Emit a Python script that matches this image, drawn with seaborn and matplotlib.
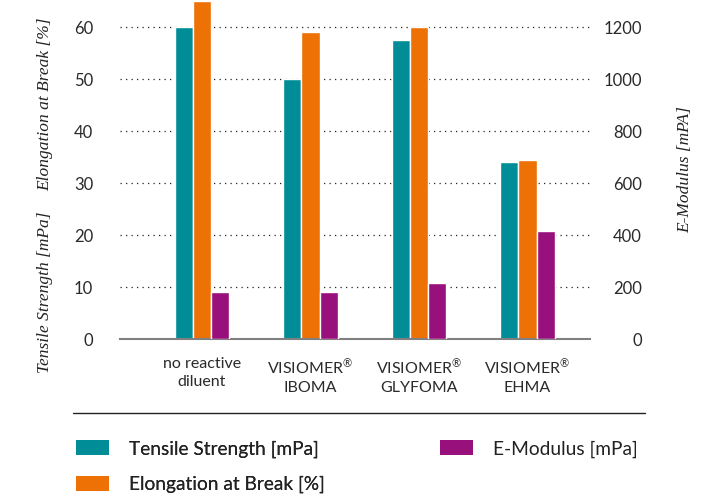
import matplotlib
matplotlib.use("Agg")
import matplotlib.pyplot as plt
from matplotlib.patches import Patch
from matplotlib.lines import Line2D
import seaborn as sns
import pandas as pd

categories = ["no reactive\ndiluent", "VISIOMER$^{®}$\nIBOMA", "VISIOMER$^{®}$\nGLYFOMA", "VISIOMER$^{®}$\nEHMA"]
tensile_strength = [60, 50, 57.5, 34]          # mPa (left axis)
elongation_at_break = [65, 59, 60, 34.5]        # % (left axis)
e_modulus = [180, 180, 215, 415]                # mPa (right axis)
left_ticks = [0, 10, 20, 30, 40, 50, 60]
right_ticks = [0, 200, 400, 600, 800, 1000, 1200]

measures = ["Tensile Strength [mPa]", "Elongation at Break [%]", "E-Modulus [mPa]"]
colors = {"Tensile Strength [mPa]": "#008D97",
          "Elongation at Break [%]": "#EE7106",
          "E-Modulus [mPa]": "#98107C"}

rows = []
for c, t, e, m in zip(categories, tensile_strength, elongation_at_break, e_modulus):
    rows.append((c, measures[0], t))
    rows.append((c, measures[1], e))
    rows.append((c, measures[2], m))
df = pd.DataFrame(rows, columns=["category", "measure", "value"])
df_left = df[df["measure"] != measures[2]]
df_right = df[df["measure"] == measures[2]]

sns.set_theme(style="white")
plt.rcParams["font.family"] = ["Lato", "DejaVu Sans"]
plt.rcParams["mathtext.fontset"] = "custom"
plt.rcParams["mathtext.rm"] = "Lato"
plt.rcParams["mathtext.it"] = "Lato"
plt.rcParams["mathtext.bf"] = "Lato"
tick_color = "#2a2a2a"

fig = plt.figure(figsize=(7.1, 4.95), dpi=100)
W, H = 710, 495
ax = fig.add_axes([120 / W, 1 - 339 / H, (590 - 120) / W, 339 / H])
ax2 = ax.twinx()

sns.barplot(data=df_left, x="category", y="value", hue="measure", hue_order=measures,
            order=categories, palette=colors, width=0.5, saturation=1, ax=ax,
            legend=False, errorbar=None, dodge=True)
sns.barplot(data=df_right, x="category", y="value", hue="measure", hue_order=measures,
            order=categories, palette=colors, width=0.5, saturation=1, ax=ax2,
            legend=False, errorbar=None, dodge=True)

ppu = 5.2
ax.set_ylim(0, 339 / ppu)
ax2.set_ylim(0, 339 / ppu * 20)
ax.set_xlim((120 - 202) / 108.5, (590 - 202) / 108.5)
ax2.set_xlim(ax.get_xlim())

ax.set_yticks(left_ticks)
ax2.set_yticks(right_ticks)
ax.set_xlabel("")
ax.set_ylabel("")
ax2.set_xlabel("")
ax2.set_ylabel("")

ax.yaxis.grid(True, linestyle=(0, (1, 3.4)), color="#222222", linewidth=0.9)
ax.set_axisbelow(True)
ax2.grid(False)

for a in (ax, ax2):
    for s in ("top", "left", "right"):
        a.spines[s].set_visible(False)
ax2.spines["bottom"].set_visible(False)
ax.spines["bottom"].set_color("#808080")
ax.spines["bottom"].set_linewidth(1.5)

ax.tick_params(axis="y", length=0, pad=19.4, labelsize=12, labelcolor=tick_color)
ax.tick_params(axis="x", length=0, pad=13, labelsize=11.5, labelcolor=tick_color)
ax2.tick_params(axis="y", length=0, pad=37.4, labelsize=12, labelcolor=tick_color)
for lab in ax2.get_yticklabels():
    lab.set_horizontalalignment("right")
for lab in ax.get_xticklabels():
    lab.set_linespacing(1.35)

serif = dict(family=["Liberation Serif", "DejaVu Serif"], style="italic", size=12.5,
             color="#222222", rotation=90, va="center", ha="center")
fig.text(45 / W, 1 - 104 / H, "Elongation at Break [%]", **serif)
fig.text(45 / W, 1 - 292 / H, "Tensile Strength [mPa]", **serif)
fig.text(685 / W, 1 - 170 / H, "E-Modulus [mPA]", **serif)

fig.add_artist(Line2D([73 / W, 645 / W], [1 - 413 / H, 1 - 413 / H], color="#222222", lw=1))

fs = 13.8
leg_kw = dict(frameon=False, fontsize=fs, handlelength=1.72, handleheight=0.85,
              handletextpad=1.04, labelspacing=0.95, borderpad=0, borderaxespad=0,
              labelcolor="#222222", loc="upper left")
h = [Patch(facecolor=colors[m], edgecolor="none") for m in measures]
leg1 = fig.legend(handles=h[:2], labels=measures[:2], bbox_to_anchor=(76 / W, 1 - 440 / H), **leg_kw)
fig.add_artist(leg1)
fig.legend(handles=h[2:], labels=measures[2:], bbox_to_anchor=(440 / W, 1 - 440 / H), **leg_kw)

fig.savefig("out.png", dpi=100)
